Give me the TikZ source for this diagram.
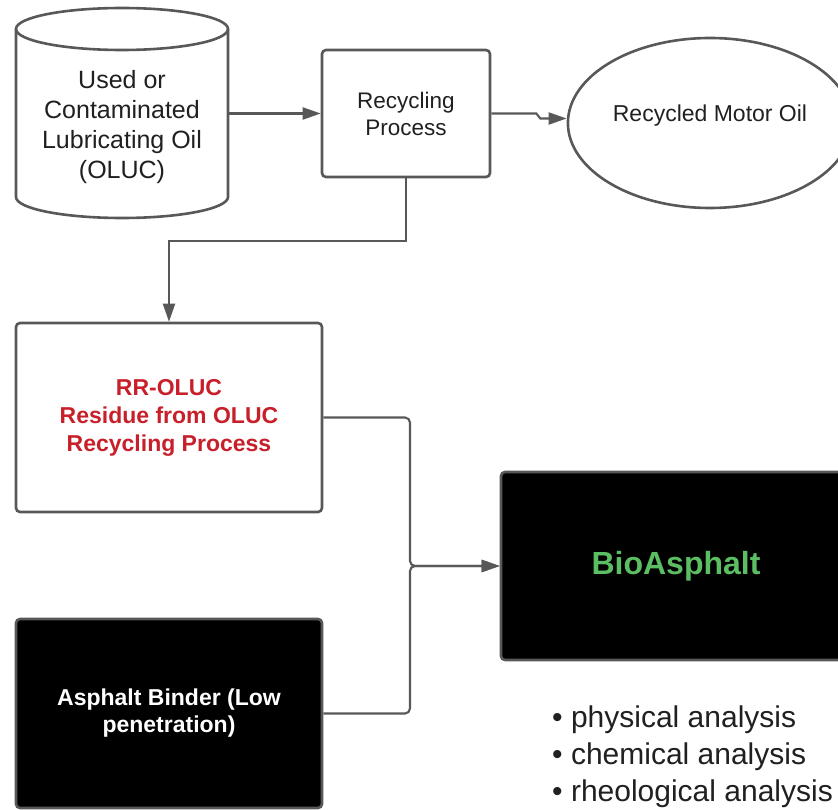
\documentclass[tikz,border=0pt]{standalone}
\usepackage{fontspec}
\setmainfont{Liberation Sans}
\usepackage{xcolor}
\definecolor{Gris}{RGB}{88,88,88}
\definecolor{Rouge}{RGB}{200,32,42}
\definecolor{Vert}{RGB}{92,190,98}
\definecolor{Texte}{RGB}{32,32,32}
\usepackage{tikz}
\usetikzlibrary{shapes,arrows.meta,calc,positioning}

\begin{document}
\begin{tikzpicture}[x=1pt,y=-1pt,every node/.style={text=Texte,align=center},
  boite/.style={draw=Gris,line width=2.6pt,rounded corners=4pt},
  fleche/.style={draw=Gris,line width=2.1pt,-{Triangle[length=18pt,width=12pt]}}]
    \useasboundingbox (0,0) rectangle (838,810);
    % cylinder
    \filldraw[draw=Gris,fill=white,line width=2.6pt](16,29)--(16,197) arc[start angle=180,end angle=0,x radius=106,y radius=21]--(228,29);
    \draw[Gris,line width=2.6pt](122,29) ellipse[x radius=106,y radius=21];
    \node[minimum width=212,font=\fontsize{25}{30}\selectfont](oil) at(122,127){Used or\\Contaminated\\Lubricating Oil\\(OLUC)};
    \node[boite,minimum width=168,minimum height=127,font=\fontsize{22.5}{27}\selectfont](proc) at(406,113.5){Recycling\\Process};
    \node[draw=Gris,line width=2.6pt,ellipse,minimum width=254,minimum height=170,text height=16pt,text depth=18pt,font=\fontsize{23}{27}\selectfont](motor) at(710,123){Recycled Motor Oil};
    \node[boite,minimum width=306,minimum height=189,font=\bfseries\fontsize{23}{28}\selectfont,text=Rouge](rr) at(169,417.5){RR-OLUC\\Residue from OLUC\\Recycling Process};
    \node[boite,fill=black,minimum width=306,minimum height=189,font=\bfseries\fontsize{23}{27}\selectfont,text=white](asph) at(169,713.5){Asphalt Binder (Low\\penetration)};
    \node[boite,fill=black,minimum width=350,minimum height=188,font=\bfseries\fontsize{32}{38}\selectfont,text=Vert](bio) at(676,566){BioAsphalt};
    \node[anchor=base west,inner sep=0,font=\fontsize{30}{36}\selectfont](phys) at(552,727){• physical analysis};
    \node[anchor=base west,inner sep=0,font=\fontsize{30}{36}\selectfont](chem) at(552,764){• chemical analysis};
    \node[anchor=base west,inner sep=0,font=\fontsize{30}{36}\selectfont](rheo) at(552,801){• rheological analysis};
    \coordinate(join) at(410,0 |- bio.west);
    \path[fleche](oil.east |- proc.west)--(proc.west);
    \path[fleche](proc.east)--++(45,0)--++(4,5)--($(motor.west)+(0,-4.5)$);
    \path[fleche](proc.south)--++(0,63)-|(rr.north);
    \path[fleche,rounded corners=5pt](rr.east)-|(join)--(bio.west);
    \path[fleche,rounded corners=5pt](asph.east)-|(join)--(bio.west);
\end{tikzpicture}
\end{document}
